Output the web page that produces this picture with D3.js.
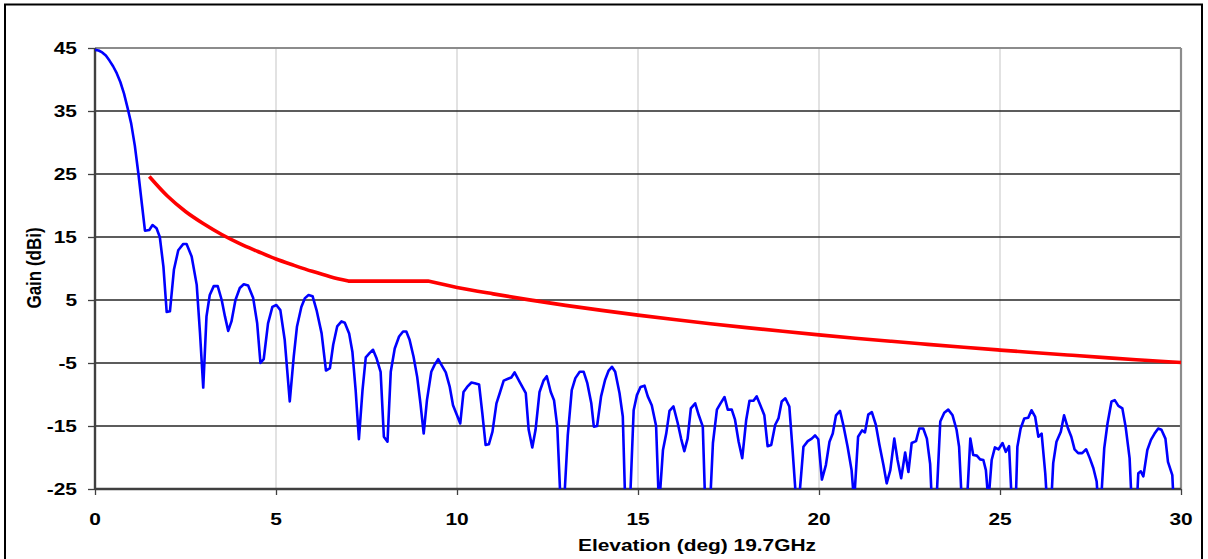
<!DOCTYPE html>
<html><head><meta charset="utf-8">
<script src="https://cdn.jsdelivr.net/npm/d3@7/dist/d3.min.js"></script>
<style>body{margin:0;background:#fff;overflow:hidden}</style>
</head><body>
<svg id="c" width="1208" height="559"></svg>
<script>
// ---- data ----
const elevation = [0,0.1,0.2,0.3,0.4,0.5,0.6,0.7,0.8,0.9,1.0,1.1,1.2,1.3,1.38,1.5,1.59,1.70,1.79,1.89,1.98,2.07,2.18,2.30,2.44,2.53,2.67,2.81,2.90,2.99,3.08,3.17,3.28,3.39,3.50,3.59,3.68,3.77,3.88,4.00,4.11,4.23,4.37,4.48,4.57,4.66,4.78,4.90,5.01,5.12,5.24,5.38,5.49,5.58,5.70,5.80,5.90,6.01,6.12,6.26,6.38,6.49,6.58,6.69,6.81,6.90,7.02,7.11,7.20,7.29,7.39,7.48,7.59,7.68,7.78,7.89,7.98,8.08,8.17,8.28,8.40,8.51,8.60,8.69,8.80,8.90,8.99,9.08,9.17,9.29,9.38,9.48,9.57,9.69,9.80,9.89,10.0,10.09,10.18,10.28,10.40,10.49,10.61,10.70,10.79,10.88,10.98,11.09,11.18,11.29,11.41,11.50,11.59,11.73,11.90,11.98,12.08,12.17,12.28,12.39,12.48,12.59,12.68,12.77,12.86,12.96,13.06,13.17,13.27,13.39,13.50,13.60,13.71,13.78,13.87,13.98,14.09,14.19,14.28,14.37,14.49,14.58,14.66,14.76,14.88,14.97,15.07,15.18,15.27,15.38,15.50,15.58,15.69,15.78,15.87,15.98,16.10,16.19,16.28,16.37,16.46,16.58,16.68,16.79,16.87,16.97,17.07,17.18,17.28,17.39,17.48,17.59,17.68,17.78,17.88,17.99,18.08,18.19,18.28,18.38,18.49,18.58,18.68,18.79,18.88,18.97,19.07,19.18,19.27,19.37,19.46,19.57,19.69,19.80,19.89,19.98,20.08,20.19,20.29,20.38,20.47,20.58,20.67,20.79,20.90,20.97,21.08,21.19,21.27,21.36,21.46,21.57,21.67,21.78,21.87,21.97,22.08,22.17,22.27,22.38,22.47,22.56,22.68,22.77,22.88,22.98,23.07,23.14,23.22,23.35,23.46,23.57,23.69,23.80,23.87,23.97,24.06,24.18,24.26,24.36,24.45,24.54,24.61,24.68,24.77,24.86,24.96,25.07,25.16,25.25,25.35,25.42,25.48,25.57,25.67,25.78,25.87,25.97,26.06,26.15,26.25,26.33,26.39,26.47,26.56,26.68,26.77,26.88,26.97,27.06,27.16,27.27,27.38,27.48,27.58,27.67,27.72,27.78,27.88,27.97,28.08,28.17,28.27,28.38,28.47,28.58,28.66,28.76,28.82,28.89,28.96,29.07,29.17,29.27,29.37,29.46,29.57,29.64,29.76,29.82];
const gain = [44.7,44.6,44.3,43.8,43.0,42.1,41.0,39.6,37.8,35.5,33.0,29.5,25.0,20.0,16.0,16.1,16.9,16.4,15.0,10.3,3.1,3.2,9.8,12.9,13.9,13.9,11.9,7.4,-0.2,-8.9,2.4,5.8,7.2,7.2,5.0,2.4,0.1,1.6,5.0,6.9,7.5,7.3,5.3,1.3,-5.0,-4.4,1.3,3.9,4.2,3.4,-1.3,-11.1,-4.0,0.8,3.9,5.3,5.8,5.6,3.4,-0.3,-6.2,-5.8,-2.1,0.8,1.6,1.4,-0.3,-3.2,-9.3,-17.1,-9.3,-4.1,-3.4,-2.9,-4.3,-6.4,-16.7,-17.5,-6.4,-2.7,-0.8,0.0,0.0,-1.3,-4.0,-7.2,-11.4,-16.2,-10.9,-6.4,-5.3,-4.4,-5.3,-6.5,-8.8,-11.7,-13.3,-14.6,-9.6,-8.8,-8.1,-8.2,-8.4,-13.0,-18.0,-17.9,-15.9,-11.4,-9.8,-7.8,-7.5,-7.3,-6.5,-8.0,-9.8,-15.6,-18.4,-15.6,-9.6,-7.8,-7.1,-9.6,-10.9,-15.1,-27,-27,-16.5,-9.3,-7.4,-6.4,-6.4,-8.2,-11.4,-15.1,-15.0,-10.3,-7.7,-6.2,-5.6,-6.4,-9.8,-13.5,-30,-30,-12.5,-10.1,-8.8,-8.6,-10.3,-11.7,-15.0,-28,-18.8,-16.2,-12.6,-11.9,-14.6,-17.0,-19.0,-17.0,-12.2,-11.4,-13.3,-15.1,-30,-30,-17.7,-12.4,-11.4,-10.4,-12.4,-12.4,-14.0,-17.5,-20.1,-14.0,-11.0,-11.0,-10.3,-11.7,-13.3,-18.2,-18.0,-14.8,-13.8,-11.1,-10.6,-11.9,-18.8,-27,-26,-18.3,-17.4,-17.0,-16.5,-17.1,-23.5,-21.2,-17.5,-16.2,-13.3,-12.6,-14.8,-18.3,-22.0,-27,-16.7,-15.7,-16.0,-13.2,-12.8,-14.8,-18.0,-21.2,-24.1,-22.0,-17.0,-20.4,-23.3,-19.2,-22.3,-17.7,-17.4,-15.4,-15.4,-17.0,-21.0,-30,-30,-14.3,-12.9,-12.4,-13.3,-15.6,-18.3,-30,-30,-17.0,-19.6,-19.7,-20.3,-20.4,-22.0,-27,-20.4,-18.4,-18.7,-17.7,-19.1,-18.2,-30,-30,-18.3,-15.4,-13.8,-13.7,-12.5,-13.5,-16.7,-16.2,-22.5,-30,-30,-20.9,-17.5,-15.9,-13.3,-15.4,-16.7,-18.7,-19.3,-19.3,-18.7,-20.1,-21.7,-23.8,-28,-28,-18.5,-14.6,-11.1,-10.9,-11.8,-12.2,-15.1,-20.1,-30,-30,-22.5,-22.2,-23.0,-18.8,-17.2,-16.2,-15.4,-15.6,-17.0,-20.7,-22.8,-30];
const maskElevation = [1.5,2,2.5,3,3.5,4,4.5,5,5.5,6,6.5,7,9.2,10,11,12,13,14,15,16,17,18,19,20,21,22,23,24,25,26,27,28,29,30];
const maskGain = [24.6,21.5,19.05,17.1,15.4,13.95,12.7,11.5,10.5,9.55,8.7,8.0,8.0,7.0,5.97,5.02,4.15,3.35,2.6,1.9,1.24,0.62,0.03,-0.53,-1.06,-1.56,-2.04,-2.51,-2.95,-3.37,-3.78,-4.18,-4.56,-4.93];
const maskBreaks = [7, 9.2];
const xTicks = [0,5,10,15,20,25,30];
const yTicks = [-25,-15,-5,5,15,25,35,45];
const xTitle = "Elevation (deg) 19.7GHz";
const yTitle = "Gain (dBi)";

// ---- layout ----
const svg = d3.select("#c");
const L = 95, R = 1181, T = 48, B = 489;
const x = d3.scaleLinear().domain([0,30]).range([L,R]);
const y = d3.scaleLinear().domain([-25,45]).range([B,T]);
const FONT = "'Liberation Sans', Arial, Helvetica, sans-serif";
const SX = 1.23;

svg.append("rect").attr("x",0).attr("y",0).attr("width",1208).attr("height",559).attr("fill","#fff");
svg.append("rect").attr("x",5).attr("y",4.5).attr("width",1197).attr("height",570)
  .attr("fill","none").attr("stroke","#000").attr("stroke-width",2);

// vertical gridlines
svg.append("g").selectAll("line").data(xTicks.filter(d=>d>0 && d<30)).join("line")
  .attr("x1",d=>x(d)).attr("x2",d=>x(d)).attr("y1",T).attr("y2",B)
  .attr("stroke","#d9d9d9").attr("stroke-width",1.5);
// horizontal gridlines
svg.append("g").selectAll("line").data(yTicks.filter(d=>d>-25 && d<45)).join("line")
  .attr("x1",L).attr("x2",R).attr("y1",d=>y(d)).attr("y2",d=>y(d))
  .attr("stroke","#262626").attr("stroke-width",1.3);
// top and right frame
svg.append("line").attr("x1",L).attr("x2",R).attr("y1",T).attr("y2",T).attr("stroke","#8c8c8c").attr("stroke-width",2.2);
svg.append("line").attr("x1",R).attr("x2",R).attr("y1",T).attr("y2",B).attr("stroke","#8c8c8c").attr("stroke-width",2.2);

// axes
const yAxis = d3.axisLeft(y).tickValues(yTicks).tickSize(7).tickFormat("");
const xAxis = d3.axisBottom(x).tickValues(xTicks).tickSize(6).tickFormat("");
const gy = svg.append("g").attr("transform",`translate(${L},0)`).call(yAxis);
const gx = svg.append("g").attr("transform",`translate(0,${B})`).call(xAxis);
[gy,gx].forEach(g=>{
  g.select(".domain").attr("stroke","#404040").attr("stroke-width",2.4);
  g.selectAll(".tick line").attr("stroke","#404040").attr("stroke-width",1.3);
});
gy.select(".domain").attr("d",`M0,${T}V${B}`);
gx.select(".domain").attr("d",`M${L},0H${R}`);

function label(xp, yp, txt, anchor){
  svg.append("text").attr("transform",`translate(${xp},${yp}) scale(${SX},1)`)
    .attr("text-anchor",anchor).attr("font-family",FONT).attr("font-weight","bold")
    .attr("font-size",17).attr("fill","#000").text(txt);
}
yTicks.forEach(v=>label(77, y(v)+6, String(v), "end"));
xTicks.forEach(v=>label(x(v), 525, String(v), "middle"));
label(697, 551, xTitle, "middle");
svg.append("text").attr("transform",`translate(41,268) scale(${SX},1) rotate(-90)`)
  .attr("text-anchor","middle").attr("font-family",FONT).attr("font-weight","bold")
  .attr("font-size",17).attr("fill","#000").text(yTitle);

// clip
svg.append("clipPath").attr("id","plotclip").append("rect")
  .attr("x",L).attr("y",T-3).attr("width",R-L).attr("height",B-T+3);

const blueData = elevation.map((e,i)=>[e,gain[i]]);
const redData = maskElevation.map((e,i)=>[e,maskGain[i]]);

svg.append("path").datum(blueData).attr("clip-path","url(#plotclip)")
  .attr("d", d3.line().x(d=>x(d[0])).y(d=>y(d[1])))
  .attr("fill","none").attr("stroke","#0000ff").attr("stroke-width",2.6).attr("stroke-linejoin","round");

// red mask: smooth within each piece, sharp corners at the breakpoints
const redLine = d3.line().x(d=>x(d[0])).y(d=>y(d[1])).curve(d3.curveMonotoneX);
const pieces = [
  redData.filter(d=>d[0]<=maskBreaks[0]),
  redData.filter(d=>d[0]>=maskBreaks[0] && d[0]<=maskBreaks[1]),
  redData.filter(d=>d[0]>=maskBreaks[1])
];
const redPath = pieces.map((p,i)=>{
  const s = redLine(p);
  return i===0 ? s : "L" + s.slice(1);
}).join("");
svg.append("path").attr("d", redPath)
  .attr("fill","none").attr("stroke","#ff0000").attr("stroke-width",3.6).attr("stroke-linejoin","round");
</script>
</body></html>
